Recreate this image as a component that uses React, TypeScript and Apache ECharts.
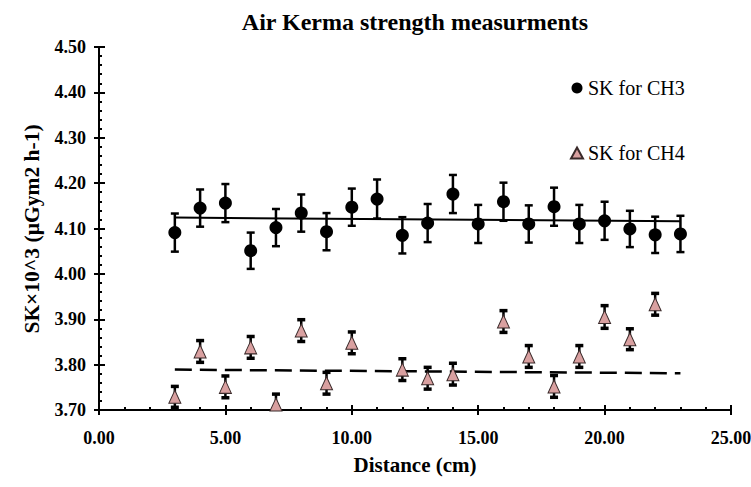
import React, { useEffect, useRef } from "react";
import * as echarts from "echarts";

const FONT = "Liberation Serif";

const ch3X = [3, 4, 5, 6, 7, 8, 9, 10, 11, 12, 13, 14, 15, 16, 17, 18, 19, 20, 21, 22, 23];
const ch3Y = [4.091, 4.145, 4.156, 4.051, 4.102, 4.134, 4.093, 4.147, 4.165, 4.085, 4.112, 4.176, 4.110, 4.159, 4.110, 4.148, 4.110, 4.117, 4.099, 4.086, 4.088];
const ch3Err = [0.042, 0.041, 0.042, 0.040, 0.041, 0.041, 0.041, 0.041, 0.043, 0.040, 0.042, 0.042, 0.042, 0.042, 0.041, 0.042, 0.042, 0.042, 0.040, 0.040, 0.040];

const ch4X = [3, 4, 5, 6, 7, 8, 9, 10, 12, 13, 14, 16, 17, 18, 19, 20, 21, 22];
const ch4Y = [3.729, 3.829, 3.751, 3.838, 3.712, 3.875, 3.759, 3.848, 3.789, 3.770, 3.779, 3.895, 3.818, 3.752, 3.818, 3.905, 3.856, 3.933];
const ch4Err = [0.023, 0.024, 0.024, 0.024, 0.023, 0.024, 0.024, 0.024, 0.024, 0.024, 0.024, 0.024, 0.024, 0.024, 0.024, 0.025, 0.023, 0.024];

const ch3Trend = [[3, 4.124], [23, 4.116]];
const ch4Trend = [[3, 3.789], [23, 3.781]];

const TITLE = "Air Kerma strength measurments";
const X_NAME = "Distance (cm)";
const Y_NAME = "SK×10^3 (µGym2 h-1)";
const SERIES3 = "SK for CH3";
const SERIES4 = "SK for CH4";

function errRender(capHalf: number, lw: number, capLw: number) {
  return (params: any, api: any) => {
    const x = api.value(0);
    const y = api.value(1);
    const e = api.value(2);
    const top = api.coord([x, y + e]);
    const bot = api.coord([x, y - e]);
    const st = { stroke: "#000", lineWidth: lw };
    const cst = { stroke: "#000", lineWidth: capLw };
    return {
      type: "group",
      children: [
        { type: "line", shape: { x1: top[0], y1: top[1], x2: bot[0], y2: bot[1] }, style: st },
        { type: "line", shape: { x1: top[0] - capHalf, y1: top[1], x2: top[0] + capHalf, y2: top[1] }, style: cst },
        { type: "line", shape: { x1: bot[0] - capHalf, y1: bot[1], x2: bot[0] + capHalf, y2: bot[1] }, style: cst },
      ],
    };
  };
}

export default function App() {
  const ref = useRef<HTMLDivElement>(null);
  useEffect(() => {
    if (!ref.current) return;
    const chart = echarts.init(ref.current, null, { renderer: "svg" });
    const tickFont = { fontFamily: FONT, fontWeight: "bold", fontSize: 18, color: "#000" };
    const xCommon = { type: "value", min: 0, max: 25, interval: 5, splitLine: { show: false } };
    const yCommon = { type: "value", min: 3.7, max: 4.5, interval: 0.1, splitLine: { show: false } };
    chart.setOption({
      animation: false,
      backgroundColor: "#fff",
      textStyle: { fontFamily: FONT },
      grid: { left: 99, right: 20, top: 47, bottom: 77, containLabel: false, outerBoundsMode: "none" },
      xAxis: [
        {
          ...xCommon,
          axisLine: { lineStyle: { color: "#000", width: 2 } },
          axisTick: { inside: true, length: 5, lineStyle: { color: "#000", width: 2 } },
          minorTick: { show: true, splitNumber: 5, length: 3, lineStyle: { color: "#000", width: 2 } },
          axisLabel: { ...tickFont, margin: 19, formatter: (v: number) => v.toFixed(2) },
        },
        {
          ...xCommon,
          position: "bottom",
          axisLine: { show: false },
          axisTick: { inside: false, length: 5, lineStyle: { color: "#000", width: 2 } },
          axisLabel: { show: false },
        },
      ],
      yAxis: [
        {
          ...yCommon,
          axisLine: { lineStyle: { color: "#000", width: 2 } },
          axisTick: { inside: true, length: 6, lineStyle: { color: "#000", width: 2 } },
          minorTick: { show: true, splitNumber: 5, length: 3, lineStyle: { color: "#000", width: 2 } },
          axisLabel: { ...tickFont, margin: 13, formatter: (v: number) => v.toFixed(2) },
        },
        {
          ...yCommon,
          position: "left",
          axisLine: { show: false },
          axisTick: { inside: false, length: 5, lineStyle: { color: "#000", width: 2 } },
          axisLabel: { show: false },
        },
      ],
      legend: {
        data: [SERIES3, SERIES4],
        orient: "vertical",
        left: 565,
        top: 73,
        itemGap: 45,
        itemWidth: 12,
        itemHeight: 11,
        textStyle: { fontFamily: FONT, fontSize: 20, color: "#000", lineHeight: 20 },
      },
      graphic: [
        { type: "text", x: 415, y: 22, style: { text: TITLE, fontFamily: FONT, fontWeight: "bold", fontSize: 24, fill: "#000", textAlign: "center", textVerticalAlign: "middle" } },
        { type: "text", x: 415, y: 465, style: { text: X_NAME, fontFamily: FONT, fontWeight: "bold", fontSize: 21, fill: "#000", textAlign: "center", textVerticalAlign: "middle" } },
        { type: "text", x: 32, y: 229, rotation: Math.PI / 2, style: { text: Y_NAME, fontFamily: FONT, fontWeight: "bold", fontSize: 21.5, fill: "#000", textAlign: "center", textVerticalAlign: "middle" } },
      ],
      series: [
        { name: SERIES3 + " trend", type: "line", data: ch3Trend, symbol: "none", lineStyle: { color: "#000", width: 2 }, z: 1, silent: true },
        { name: SERIES4 + " trend", type: "line", data: ch4Trend, symbol: "none", lineStyle: { color: "#000", width: 2.5, type: [17, 8] }, z: 1, silent: true },
        { name: SERIES3 + " err", type: "custom", clip: true, renderItem: errRender(4, 2.5, 2.5), data: ch3X.map((x, i) => [x, ch3Y[i], ch3Err[i]]), encode: { x: 0, y: 1 }, z: 2 },
        { name: SERIES4 + " err", type: "custom", clip: true, renderItem: errRender(4, 2.5, 3.5), data: ch4X.map((x, i) => [x, ch4Y[i], ch4Err[i]]), encode: { x: 0, y: 1 }, z: 2 },
        { name: SERIES3, type: "scatter", symbol: "circle", symbolSize: 13, itemStyle: { color: "#000", opacity: 1 }, data: ch3X.map((x, i) => [x, ch3Y[i]]), z: 3 },
        { name: SERIES4, type: "scatter", symbol: "triangle", symbolSize: [12, 13], itemStyle: { color: "#d9a0a0", borderColor: "#3a2a2a", borderWidth: 1, opacity: 1 }, data: ch4X.map((x, i) => [x, ch4Y[i]]), z: 3 },
      ],
    });
    return () => chart.dispose();
  }, []);
  return <div ref={ref} style={{ position: "fixed", left: 0, top: 0, width: 751, height: 487 }} />;
}
